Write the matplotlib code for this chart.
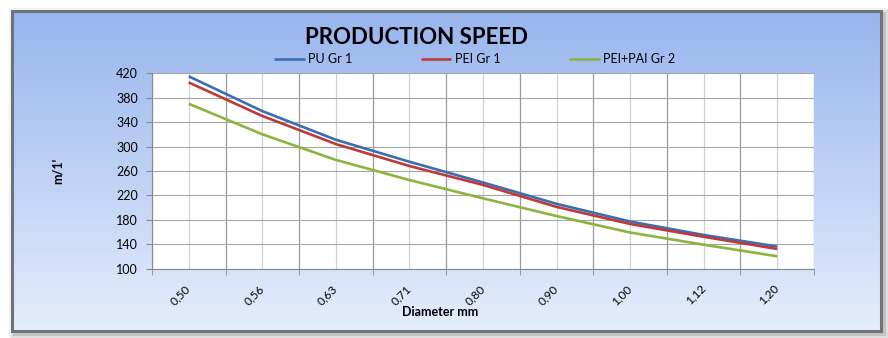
import numpy as np
import matplotlib
matplotlib.use("Agg")
import matplotlib.pyplot as plt
from matplotlib.patches import Rectangle

plt.rcParams['font.family'] = ['Lato', 'DejaVu Sans']

categories = ["0,50", "0,56", "0,63", "0,71", "0,80", "0,90", "1,00", "1,12", "1,20"]
pu_gr1 = [415, 358, 311, 275, 241, 206, 177, 155, 136]
pei_gr1 = [405, 350, 304, 268, 237, 201, 173, 152, 132]
pei_pai_gr2 = [370, 320, 278, 245, 215, 186, 159, 139, 120]
series_names = ["PU Gr 1", "PEI Gr 1", "PEI+PAI Gr 2"]
y_ticks = [100, 140, 180, 220, 260, 300, 340, 380, 420]

W, H = 888, 338
fig = plt.figure(figsize=(W / 100, H / 100), dpi=100)

# background / frame
bg = fig.add_axes([0, 0, 1, 1])
bg.set_xlim(0, W)
bg.set_ylim(H, 0)
bg.axis("off")
for i, a in enumerate([0.05, 0.08, 0.12]):
    off = 6 - 2 * i
    bg.add_patch(Rectangle((12 - off + 3, 11 - off + 3), 869 + 2 * off, 320 + 2 * off,
                           facecolor="#000000", alpha=a, edgecolor="none", zorder=0))
top = np.array([0x98, 0xb5, 0xee]) / 255
bot = np.array([0xe4, 0xee, 0xfc]) / 255
t = np.linspace(0, 1, 256)[:, None]
grad = (top[None, :] * (1 - t) + bot[None, :] * t)[:, None, :]
bg.imshow(grad, extent=(12, 881, 331, 11), aspect="auto", zorder=1)
bg.add_patch(Rectangle((12, 11), 869, 320, facecolor="none", edgecolor="#6e7379",
                       linewidth=2.2, zorder=2))

ax = fig.add_axes([152 / W, 1 - 268.5 / H, (814 - 152) / W, (268.5 - 73.3) / H])
ax.set_facecolor("white")
x = np.arange(len(categories))
colors = ["#3b6db4", "#bd3a36", "#8cb43f"]
for vals, name, c in zip([pu_gr1, pei_gr1, pei_pai_gr2], series_names, colors):
    ax.plot(x, vals, color=c, linewidth=1.9, label=name, solid_capstyle="butt",
            solid_joinstyle="round", zorder=3)

ax.set_xlim(-0.5, len(categories) - 0.5)
ax.set_ylim(100, 420)
ax.set_yticks(y_ticks)
ax.set_xticks(x)
ax.set_xticklabels(categories, rotation=45, ha="right", va="center",
                   rotation_mode="anchor", fontsize=8.5)
ax.set_xticks(np.arange(-0.5, len(categories)), minor=True)
ax.tick_params(axis="x", which="major", length=0, pad=13)
ax.tick_params(axis="x", which="minor", length=4, color="#8a8a8a", direction="out")
ax.tick_params(axis="y", length=4, color="#8a8a8a", labelsize=9, pad=6)
ax.grid(axis="y", color="#a6a6a6", linewidth=0.8)
ax.grid(axis="x", which="minor", color="#9a9a9a", linewidth=0.9)
ax.grid(axis="x", which="major", color="#d2d2d2", linewidth=0.9)
ax.set_axisbelow(True)
for s in ["top", "right"]:
    ax.spines[s].set_visible(False)
for s in ["left", "bottom"]:
    ax.spines[s].set_color("#8a8a8a")
    ax.spines[s].set_linewidth(0.8)

ax.set_ylabel("m/1'", fontsize=9, fontweight="bold")
ax.set_xlabel("Diameter mm", fontsize=9, fontweight="bold")
ax.xaxis.set_label_coords((440 - 152) / (814 - 152), -(306 - 268.5) / (268.5 - 73.3))
ax.yaxis.set_label_coords(-(152 - 64) / (814 - 152), 0.5)

fig.text(416 / W, 1 - 37 / H, "PRODUCTION SPEED", ha="center", va="center",
         fontsize=16, fontweight="bold", color="black")

leg = ax.legend(loc="center left", bbox_to_anchor=(274 / W, 1 - 59 / H),
                bbox_transform=fig.transFigure, ncol=3, frameon=False,
                fontsize=9, handlelength=2.45, handletextpad=0.3, columnspacing=5.45,
                borderpad=0, borderaxespad=0)

fig.savefig("out.png", dpi=100)
